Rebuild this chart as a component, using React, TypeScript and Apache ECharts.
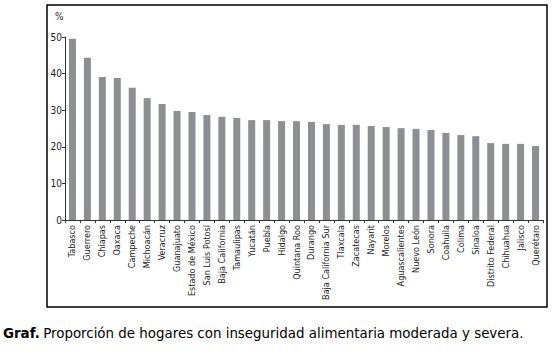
import React, { useEffect, useRef } from "react";
import * as echarts from "echarts";

const states = [
  "Tabasco", "Guerrero", "Chiapas", "Oaxaca", "Campeche", "Michoacán", "Veracruz",
  "Guanajuato", "Estado de México", "San Luis Potosí", "Baja California", "Tamaulipas",
  "Yucatán", "Puebla", "Hidalgo", "Quintana Roo", "Durango", "Baja California Sur",
  "Tlaxcala", "Zacatecas", "Nayarit", "Morelos", "Aguascalientes", "Nuevo León",
  "Sonora", "Coahuila", "Colima", "Sinaloa", "Distrito Federal", "Chihuahua",
  "Jalisco", "Querétaro",
];

const percentages = [
  49.5, 44.3, 39.1, 38.8, 36.1, 33.3, 31.7,
  29.8, 29.5, 28.7, 28.2, 27.9,
  27.3, 27.3, 27.0, 27.0, 26.8, 26.2,
  26.0, 26.0, 25.7, 25.4, 25.1, 24.9,
  24.6, 23.8, 23.2, 22.9, 21.0, 20.8,
  20.8, 20.2,
];

const yTicks = [0, 10, 20, 30, 40, 50];

const narrow = "'Liberation Sans Narrow', 'DejaVu Sans Condensed', sans-serif";
const captionFont = "'DejaVu Sans', Verdana, sans-serif";

export default function App() {
  const ref = useRef<HTMLDivElement>(null);
  useEffect(() => {
    if (!ref.current) return;
    const chart = echarts.init(ref.current, null, { renderer: "svg" });
    chart.setOption({
      animation: false,
      grid: { left: 65, right: 11, top: 37, bottom: 131, containLabel: false },
      xAxis: {
        type: "category",
        data: states,
        axisLine: { lineStyle: { color: "#333", width: 1 } },
        axisTick: { show: true, length: 3, alignWithLabel: false, lineStyle: { color: "#333" } },
        axisLabel: {
          rotate: 90,
          interval: 0,
          margin: 5,
          fontSize: 9,
          color: "#1a1a1a",
          fontFamily: narrow,
        },
      },
      yAxis: {
        type: "value",
        min: yTicks[0],
        max: yTicks[yTicks.length - 1],
        interval: 10,
        splitLine: { show: false },
        axisLine: { show: true, lineStyle: { color: "#333", width: 1 } },
        axisTick: { show: true, length: 3, lineStyle: { color: "#333" } },
        axisLabel: { fontSize: 10, color: "#1a1a1a", margin: 3, fontFamily: narrow },
      },
      series: [
        {
          type: "bar",
          data: percentages,
          barWidth: 7,
          itemStyle: { color: "#8e8f93" },
        },
      ],
      graphic: [
        {
          type: "rect",
          shape: { x: 47, y: 5, width: 500, height: 302 },
          style: { fill: "none", stroke: "#000", lineWidth: 1.5 },
          silent: true,
        },
        {
          type: "text",
          x: 55,
          y: 11,
          style: { text: "%", fontSize: 10, fill: "#1a1a1a", fontFamily: narrow },
        },
        {
          type: "text",
          x: 3,
          y: 327,
          style: {
            rich: {
              b: { fontWeight: "bold", fontSize: 13.4, fontFamily: captionFont, fill: "#000" },
              n: { fontSize: 13.4, fontFamily: captionFont, fill: "#000" },
            },
            text: "{b|Graf.} {n|Proporción de hogares con inseguridad alimentaria moderada y severa.}",
          },
        },
      ],
    });
    return () => chart.dispose();
  }, []);
  return (
    <div
      ref={ref}
      style={{ position: "fixed", left: 0, top: 0, width: 554, height: 351, background: "#fff" }}
    />
  );
}
